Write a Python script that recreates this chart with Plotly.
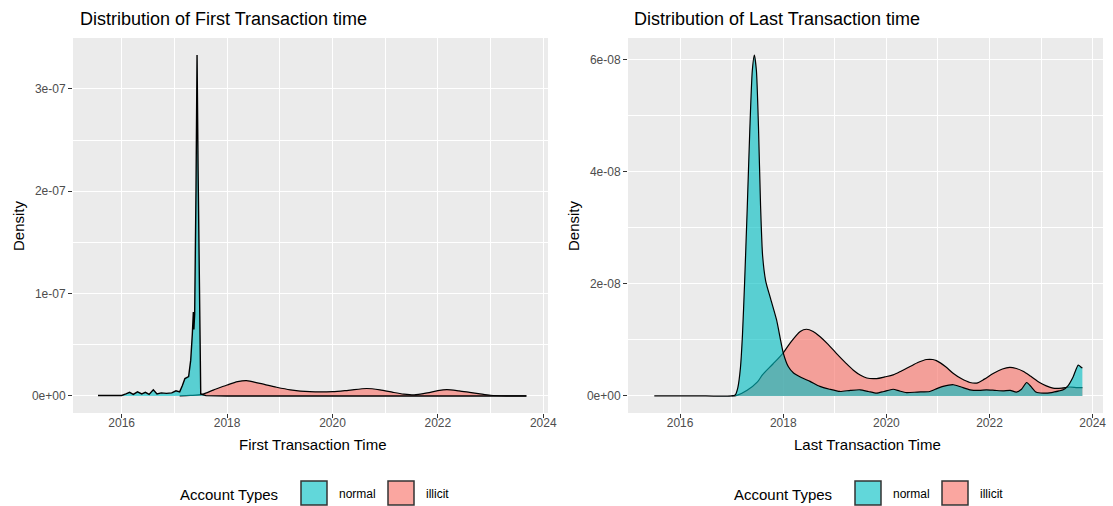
import plotly.graph_objects as go

W, H = 1113, 506

# ---------------- data (density values) ----------------
# Left panel: First Transaction time, density in units of 1e-07
first_normal_year = [2015.55, 2015.8, 2016.0, 2016.08, 2016.15, 2016.22, 2016.3, 2016.38,
                     2016.45, 2016.52, 2016.6, 2016.67, 2016.75, 2016.85, 2016.95, 2017.03,
                     2017.1, 2017.15, 2017.2, 2017.27, 2017.31, 2017.34, 2017.36, 2017.37,
                     2017.385, 2017.41, 2017.43, 2017.45, 2017.47, 2017.49, 2017.5, 2017.6,
                     2018.0, 2019.0, 2020.0, 2021.0, 2022.0, 2023.0, 2023.68]
first_normal_density = [0.005, 0.003, 0.005, 0.02, 0.035, 0.015, 0.04, 0.02,
                        0.035, 0.015, 0.06, 0.02, 0.03, 0.025, 0.03, 0.05,
                        0.04, 0.1, 0.17, 0.19, 0.35, 0.6, 0.82, 0.65,
                        0.8, 2.0, 3.33, 2.2, 1.0, 0.15, 0.02, 0.003,
                        0.0, 0.0, 0.0, 0.0, 0.0, 0.0, 0.0]

first_illicit_year = [2017.1, 2017.3, 2017.52, 2017.75, 2018.0, 2018.2, 2018.37, 2018.6,
                      2018.94, 2019.2, 2019.57, 2020.0, 2020.3, 2020.65, 2020.9, 2021.15,
                      2021.35, 2021.55, 2021.8, 2022.0, 2022.17, 2022.4, 2022.6, 2022.8,
                      2023.0, 2023.3, 2023.68]
first_illicit_density = [0.0, 0.005, 0.015, 0.06, 0.107, 0.14, 0.15, 0.125,
                         0.085, 0.06, 0.042, 0.042, 0.055, 0.073, 0.06, 0.035,
                         0.018, 0.01, 0.03, 0.052, 0.062, 0.05, 0.035, 0.02,
                         0.007, 0.001, 0.0]

# Right panel: Last Transaction time, density in units of 1e-08
last_normal_year = [2015.5, 2016.5, 2017.0, 2017.07, 2017.12, 2017.17, 2017.21, 2017.25,
                    2017.3, 2017.35, 2017.4, 2017.44, 2017.48, 2017.52, 2017.56, 2017.6,
                    2017.66, 2017.75, 2017.87, 2018.0, 2018.1, 2018.2, 2018.35, 2018.52,
                    2018.71, 2018.9, 2019.1, 2019.3, 2019.49, 2019.65, 2019.81, 2019.95,
                    2020.13, 2020.25, 2020.39, 2020.6, 2020.84, 2020.95, 2021.1, 2021.3,
                    2021.45, 2021.62, 2021.8, 2021.94, 2022.1, 2022.26, 2022.4, 2022.52,
                    2022.62, 2022.72, 2022.8, 2022.9, 2023.04, 2023.2, 2023.35, 2023.43,
                    2023.52, 2023.62, 2023.72, 2023.78, 2023.8]
last_normal_density = [0.0, 0.0, 0.0, 0.02, 0.15, 0.5, 1.1, 2.0,
                       3.3, 4.7, 5.8, 6.08, 5.8, 4.8, 3.4, 2.5,
                       2.05, 1.75, 1.36, 0.77, 0.52, 0.41, 0.33, 0.26,
                       0.17, 0.12, 0.08, 0.1, 0.11, 0.08, 0.05, 0.08,
                       0.12, 0.09, 0.06, 0.07, 0.08, 0.12, 0.17, 0.2,
                       0.16, 0.11, 0.1, 0.11, 0.1, 0.09, 0.1, 0.07,
                       0.12, 0.24, 0.17, 0.07, 0.05, 0.06, 0.09, 0.11,
                       0.18, 0.34, 0.55, 0.51, 0.5]

last_illicit_year = [2017.0, 2017.1, 2017.3, 2017.5, 2017.6, 2017.8, 2018.0, 2018.13,
                     2018.33, 2018.45, 2018.58, 2018.71, 2018.87, 2019.03, 2019.2, 2019.36,
                     2019.5, 2019.62, 2019.81, 2019.97, 2020.13, 2020.3, 2020.45, 2020.62,
                     2020.78, 2020.9, 2020.97, 2021.15, 2021.3, 2021.45, 2021.62, 2021.75,
                     2021.9, 2022.07, 2022.25, 2022.39, 2022.52, 2022.65, 2022.8, 2022.97,
                     2023.1, 2023.23, 2023.4, 2023.55, 2023.7, 2023.8]
last_illicit_density = [0.0, 0.01, 0.1, 0.25, 0.38, 0.57, 0.77, 0.94,
                        1.15, 1.19, 1.15, 1.06, 0.92, 0.76, 0.6, 0.46,
                        0.37, 0.32, 0.31, 0.34, 0.375, 0.45, 0.52, 0.6,
                        0.65, 0.65, 0.63, 0.52, 0.4, 0.31, 0.24, 0.23,
                        0.3, 0.4, 0.48, 0.51, 0.49, 0.44, 0.35, 0.24,
                        0.18, 0.14, 0.14, 0.16, 0.15, 0.15]

FIRST_SCALE = 1e-07
LAST_SCALE = 1e-08

x_tick_vals = [2016, 2018, 2020, 2022, 2024]
x_tick_text = ["2016", "2018", "2020", "2022", "2024"]
first_y_tick_vals = [0, 1e-07, 2e-07, 3e-07]
first_y_tick_text = ["0e+00", "1e-07", "2e-07", "3e-07"]
last_y_tick_vals = [0, 2e-08, 4e-08, 6e-08]
last_y_tick_text = ["0e+00", "2e-08", "4e-08", "6e-08"]

account_types = ["normal", "illicit"]

# ---------------- styling ----------------
FONT = "Liberation Sans, Arial, Helvetica, sans-serif"
NORMAL_FILL = "rgba(0,191,196,0.62)"
ILLICIT_FILL = "rgba(248,118,109,0.65)"
LINE = dict(color="black", width=1.2)


def px(x):
    return x / W


def py(y):
    return 1 - y / H


fig = go.Figure()

# draw illicit first, normal on top (as in the reference)
fig.add_trace(go.Scatter(x=first_illicit_year, y=[v * FIRST_SCALE for v in first_illicit_density],
                         mode="lines", fill="tozeroy", fillcolor=ILLICIT_FILL,
                         line=dict(shape="spline", smoothing=0.8, **LINE),
                         name="illicit", showlegend=False, xaxis="x", yaxis="y"))
fig.add_trace(go.Scatter(x=first_normal_year, y=[v * FIRST_SCALE for v in first_normal_density],
                         mode="lines", fill="tozeroy", fillcolor=NORMAL_FILL,
                         line=dict(shape="linear", color="black", width=1.4),
                         name="normal", showlegend=False, xaxis="x", yaxis="y"))
fig.add_trace(go.Scatter(x=last_illicit_year, y=[v * LAST_SCALE for v in last_illicit_density],
                         mode="lines", fill="tozeroy", fillcolor=ILLICIT_FILL,
                         line=dict(shape="spline", smoothing=0.8, **LINE),
                         name="illicit", showlegend=False, xaxis="x2", yaxis="y2"))
fig.add_trace(go.Scatter(x=last_normal_year, y=[v * LAST_SCALE for v in last_normal_density],
                         mode="lines", fill="tozeroy", fillcolor=NORMAL_FILL,
                         line=dict(shape="spline", smoothing=0.6, **LINE),
                         name="normal", showlegend=False, xaxis="x2", yaxis="y2"))

axis_common = dict(showgrid=True, gridcolor="white", gridwidth=1.1, zeroline=False,
                   showline=False, ticks="outside", ticklen=4, tickwidth=1,
                   tickcolor="#333333", tickfont=dict(family=FONT, size=12, color="#4D4D4D"),
                   automargin=False, fixedrange=True)

x_minor = dict(dtick=1, tick0=2015, showgrid=True, gridcolor="white", gridwidth=0.55, ticks="")

fig.update_layout(
    width=W, height=H,
    margin=dict(l=0, r=0, t=0, b=0),
    paper_bgcolor="white", plot_bgcolor="#EBEBEB",
    font=dict(family=FONT),
    showlegend=False,
    xaxis=dict(domain=[px(73), px(548)], range=[2015.076, 2024.09],
               tickvals=x_tick_vals, ticktext=x_tick_text, anchor="y",
               minor=x_minor, ticklabelstandoff=-5, **axis_common),
    yaxis=dict(domain=[py(413), py(38)], range=[-0.1665e-07, 3.497e-07],
               tickvals=first_y_tick_vals, ticktext=first_y_tick_text, anchor="x",
               minor=dict(dtick=0.5e-07, tick0=0, showgrid=True, gridcolor="white", gridwidth=0.55, ticks=""),
               **axis_common),
    xaxis2=dict(domain=[px(628), px(1103)], range=[2014.99, 2024.2],
                tickvals=x_tick_vals, ticktext=x_tick_text, anchor="y2",
                minor=x_minor, ticklabelstandoff=-5, **axis_common),
    yaxis2=dict(domain=[py(413), py(38)], range=[-0.304e-08, 6.385e-08],
                tickvals=last_y_tick_vals, ticktext=last_y_tick_text, anchor="x2",
                minor=dict(dtick=1e-08, tick0=0, showgrid=True, gridcolor="white", gridwidth=0.55, ticks=""),
                **axis_common),
)

ann = []
shapes = []


def text(x, y, s, size, xanchor="left", angle=0, color="black"):
    ann.append(dict(x=px(x), y=py(y), xref="paper", yref="paper", text=s, showarrow=False,
                    xanchor=xanchor, yanchor="middle", textangle=angle,
                    font=dict(family=FONT, size=size, color=color)))


# titles
text(78, 19, "Distribution of First Transaction time", 18)
text(632, 19, "Distribution of Last Transaction time", 18)
# axis titles
text(313, 444, "First Transaction Time", 15, xanchor="center")
text(867, 444, "Last Transaction Time", 15, xanchor="center")
text(18, 226, "Density", 15, xanchor="center", angle=-90)
text(573, 226, "Density", 15, xanchor="center", angle=-90)

# legends (one under each panel)
legend_fills = {"normal": NORMAL_FILL, "illicit": ILLICIT_FILL}
for title_x, box_xs in [(178, [301, 388]), (732, [855, 942])]:
    text(title_x, 494, "Account Types", 15)
    for name, bx in zip(account_types, box_xs):
        shapes.append(dict(type="rect", xref="paper", yref="paper",
                           x0=px(bx), x1=px(bx + 26), y0=py(505), y1=py(481),
                           fillcolor=legend_fills[name], line=dict(color="#333333", width=1.5)))
        text(bx + 36, 494, name, 12)

fig.update_layout(annotations=ann, shapes=shapes)

fig.write_html("out.html")
